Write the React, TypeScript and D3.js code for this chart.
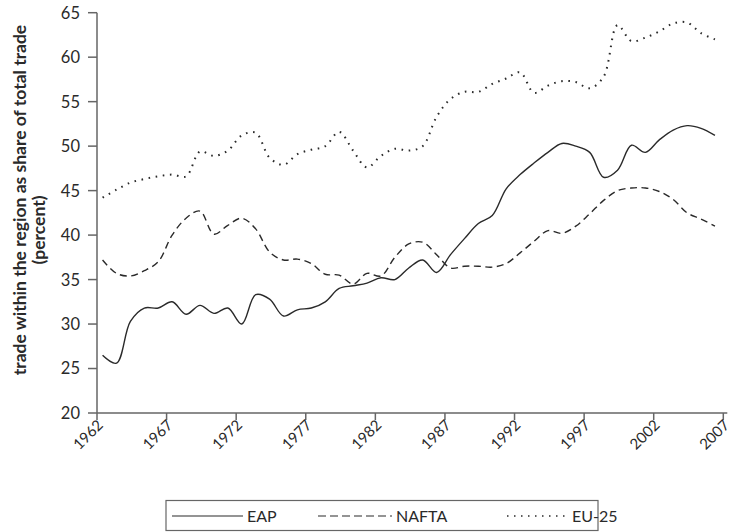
import React from "react";
import * as d3 from "d3";

const years: number[] = d3.range(1962, 2007);
const eap: number[] = [
  26.5, 25.6, 30.3, 31.8, 31.8, 32.5, 31.1, 32.1, 31.2, 31.8,
  30.0, 33.3, 32.8, 30.9, 31.6, 31.8, 32.5, 34.0, 34.3, 34.6,
  35.2, 35.0, 36.3, 37.2, 35.8, 37.8, 39.6, 41.3, 42.2, 45.2,
  46.8, 48.1, 49.3, 50.3, 50.0, 49.3, 46.5, 47.3, 50.1, 49.3,
  50.7, 51.8, 52.3, 52.0, 51.2,
];
const nafta: number[] = [
  37.2, 35.7, 35.4, 36.0, 37.0, 40.0, 41.9, 42.7, 40.1, 41.1,
  41.9, 40.7, 38.1, 37.2, 37.3, 36.8, 35.6, 35.5, 34.5, 35.7,
  35.4, 37.5, 39.0, 39.2, 37.8, 36.3, 36.5, 36.5, 36.4, 36.8,
  38.0, 39.3, 40.5, 40.2, 41.0, 42.4, 43.9, 45.0, 45.3, 45.3,
  44.9, 44.0, 42.5, 41.8, 41.0,
];
const eu25: number[] = [
  44.2, 45.1, 45.9, 46.3, 46.6, 46.8, 46.6, 49.4, 48.9, 49.5,
  51.2, 51.5, 48.7, 47.9, 49.1, 49.6, 50.0, 51.6, 49.5, 47.6,
  48.9, 49.7, 49.5, 50.0, 53.3, 55.3, 56.1, 56.1, 57.0, 57.6,
  58.3, 56.0, 56.8, 57.3, 57.2, 56.5, 57.8, 63.6, 61.8, 62.2,
  62.9, 63.8, 63.9, 62.7, 62.0,
];
const xTicks: number[] = [1962, 1967, 1972, 1977, 1982, 1987, 1992, 1997, 2002, 2007];
const yTicks: number[] = [20, 25, 30, 35, 40, 45, 50, 55, 60, 65];
const seriesNames: string[] = ["EAP", "NAFTA", "EU-25"];
const yTitle: string[] = ["trade within the region as share of total trade", "(percent)"];

const dashes: string[] = ["none", "7 4.5", "1.6 5.6"];
const FONT = "Lato, 'Open Sans', sans-serif";
const INK = "#2a2a2a";
const AXIS = "#666";

export default function App() {
  const x = d3.scaleLinear().domain([1962, 2007]).range([97, 723.3]);
  const y = d3.scaleLinear().domain([20, 65]).range([413, 12.7]);
  const pos = (yr: number) => x(yr + 0.4);
  const line = d3
    .line<number>()
    .x((_, i) => pos(years[i]))
    .y((d) => y(d))
    .curve(d3.curveCatmullRom.alpha(0.5));
  const all = [eap, nafta, eu25];

  const legendItems = [
    { x1: 172, x2: 243, tx: 247 },
    { x1: 318, x2: 392, tx: 396 },
    { x1: 507, x2: 566, tx: 572 },
  ];

  return (
    <svg
      width={739}
      height={532}
      style={{ position: "absolute", left: 0, top: 0, background: "#fff" }}
      fontFamily={FONT}
    >
      {/* y axis */}
      <line x1={x(1962)} x2={x(1962)} y1={y(65)} y2={y(20)} stroke={AXIS} strokeWidth={1.5} />
      {yTicks.map((t) => (
        <g key={t}>
          <line x1={x(1962) - 9} x2={x(1962)} y1={y(t)} y2={y(t)} stroke={AXIS} strokeWidth={1.5} />
          <text x={80} y={y(t)} dy="0.36em" textAnchor="end" fontSize={16.5} fill={INK}>
            {t}
          </text>
        </g>
      ))}
      {/* x axis */}
      <line x1={x(1962)} x2={x(2007) + 4} y1={y(20)} y2={y(20)} stroke={AXIS} strokeWidth={1.5} />
      {xTicks.map((t) => (
        <g key={t}>
          <line x1={x(t)} x2={x(t)} y1={y(20)} y2={y(20) + 7} stroke={AXIS} strokeWidth={1.5} />
          <text
            transform={`translate(${x(t) + 7},${y(20) + 13}) rotate(-45)`}
            textAnchor="end"
            fontSize={15}
            fill={INK}
          >
            {t}
          </text>
        </g>
      ))}
      {/* y title */}
      <text
        transform={`translate(26,200) rotate(-90)`}
        textAnchor="middle"
        fontSize={17.5}
        fontWeight="bold"
        fill={INK}
      >
        {yTitle[0]}
      </text>
      <text
        transform={`translate(45,230) rotate(-90)`}
        textAnchor="middle"
        fontSize={17.5}
        fontWeight="bold"
        fill={INK}
      >
        {yTitle[1]}
      </text>
      {/* series */}
      {all.map((s, i) => (
        <path
          key={i}
          d={line(s) || ""}
          fill="none"
          stroke={INK}
          strokeWidth={i === 2 ? 2 : 1.4}
          strokeDasharray={dashes[i]}
          strokeLinecap="butt"
        />
      ))}
      {/* legend */}
      <rect x={166} y={500.5} width={432} height={30} fill="none" stroke={AXIS} strokeWidth={1.2} />
      {legendItems.map((it, i) => (
        <g key={i}>
          <line
            x1={it.x1}
            x2={it.x2}
            y1={516}
            y2={516}
            stroke={INK}
            strokeWidth={i === 2 ? 1.6 : 1.2}
            strokeDasharray={i === 0 ? "none" : i === 1 ? "8 4" : "1.5 5.5"}
            strokeLinecap="butt"
          />
          <text x={it.tx} y={522} fontSize={16} fill={INK}>
            {seriesNames[i]}
          </text>
        </g>
      ))}
    </svg>
  );
}
